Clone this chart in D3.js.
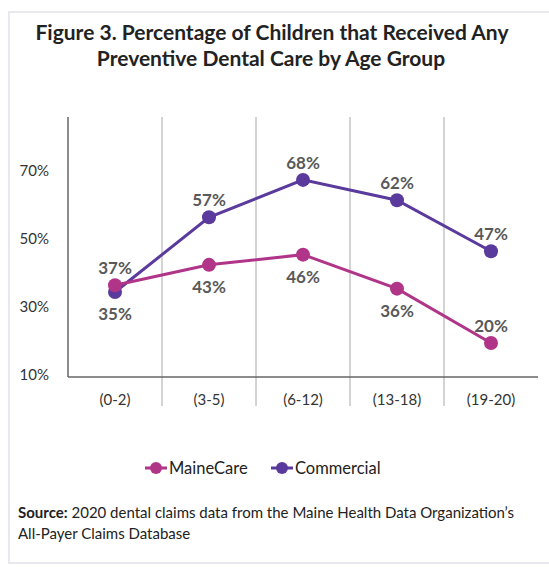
<!DOCTYPE html>
<html>
<head>
<meta charset="utf-8">
<script src="https://cdn.jsdelivr.net/npm/d3@7"></script>
<style>
  body { margin: 0; background: #fff; }
  svg { display: block; font-family: Lato, "Open Sans", sans-serif; }
</style>
</head>
<body>
<svg id="chart" width="549" height="569"></svg>
<script>
'use strict';

/* chart data */
var ageGroups = ['(0-2)', '(3-5)', '(6-12)', '(13-18)', '(19-20)'];
var maineCare = [37, 43, 46, 36, 20];
var commercial = [35, 57, 68, 62, 47];
var yTicks = [10, 30, 50, 70];
// where each label sits relative to its point
var maineCarePos = ['above', 'below', 'below', 'below', 'above'];
var commercialPos = ['below', 'above', 'above', 'above', 'above'];

var svg = d3.select('#chart');

// light frame
svg.append('rect')
    .attr('x', 9).attr('y', 12)
    .attr('width', 560).attr('height', 551)
    .attr('fill', 'none')
    .attr('stroke', '#e8e8ee')
    .attr('stroke-width', 2);

// title
var title = svg.append('text')
    .attr('text-anchor', 'middle')
    .attr('font-weight', 'bold')
    .attr('font-size', 21)
    .attr('fill', '#222');
title.append('tspan').attr('x', 272).attr('y', 40)
    .text('Figure 3. Percentage of Children that Received Any');
title.append('tspan').attr('x', 271).attr('y', 66)
    .text('Preventive Dental Care by Age Group');

var plotLeft = 68, plotRight = 538, plotTop = 117, plotBottom = 377;

var x = d3.scaleBand().domain(ageGroups).range([plotLeft, plotRight]);
var y = d3.scaleLinear().domain([10, 86.5]).range([plotBottom, plotTop]);

// vertical separators between age groups
svg.selectAll('.sep')
    .data(ageGroups.slice(1))
    .enter().append('line')
    .attr('class', 'sep')
    .attr('x1', function(d) { return x(d); })
    .attr('x2', function(d) { return x(d); })
    .attr('y1', plotTop).attr('y2', 406)
    .attr('stroke', '#a8a8a8')
    .attr('stroke-width', 1);

// axis lines
svg.append('line')
    .attr('x1', plotLeft).attr('x2', plotLeft)
    .attr('y1', plotTop).attr('y2', plotBottom)
    .attr('stroke', '#666').attr('stroke-width', 1.5);
svg.append('line')
    .attr('x1', plotLeft).attr('x2', plotRight)
    .attr('y1', plotBottom).attr('y2', plotBottom)
    .attr('stroke', '#666').attr('stroke-width', 1.5);

// y tick labels
svg.selectAll('.ytick')
    .data(yTicks)
    .enter().append('text')
    .attr('class', 'ytick')
    .attr('x', 49)
    .attr('y', function(d) { return y(d) - 2; })
    .attr('dy', '0.35em')
    .attr('text-anchor', 'end')
    .attr('font-size', 15)
    .attr('fill', '#333')
    .text(function(d) { return d + '%'; });

// x labels
svg.selectAll('.xtick')
    .data(ageGroups)
    .enter().append('text')
    .attr('class', 'xtick')
    .attr('x', function(d) { return x(d) + x.bandwidth() / 2; })
    .attr('y', 405)
    .attr('text-anchor', 'middle')
    .attr('font-size', 15)
    .attr('fill', '#333')
    .text(function(d) { return d; });

var cx = function(d, i) { return x(ageGroups[i]) + x.bandwidth() / 2; };

var series = [
    { name: 'Commercial', values: commercial, pos: commercialPos, color: '#5a3a9c' },
    { name: 'MaineCare', values: maineCare, pos: maineCarePos, color: '#b03589' }
];

var line = d3.line()
    .x(cx)
    .y(function(d) { return y(d); });

series.forEach(function(s) {
    svg.append('path')
        .datum(s.values)
        .attr('d', line)
        .attr('fill', 'none')
        .attr('stroke', s.color)
        .attr('stroke-width', 3);

    svg.selectAll(null)
        .data(s.values)
        .enter().append('circle')
        .attr('cx', cx)
        .attr('cy', function(d) { return y(d); })
        .attr('r', 7)
        .attr('fill', s.color);
});

// value labels
series.forEach(function(s) {
    svg.selectAll(null)
        .data(s.values)
        .enter().append('text')
        .attr('x', cx)
        .attr('y', function(d, i) {
            return s.pos[i] === 'above' ? y(d) - 11 : y(d) + 28;
        })
        .attr('text-anchor', 'middle')
        .attr('font-size', 17)
        .attr('font-weight', 'bold')
        .attr('fill', '#595959')
        .text(function(d) { return d + '%'; });
});

// legend
var legendItems = [
    { name: 'MaineCare', color: '#b03589', x: 145 },
    { name: 'Commercial', color: '#5a3a9c', x: 271 }
];
var lg = svg.selectAll('.legend')
    .data(legendItems)
    .enter().append('g')
    .attr('class', 'legend')
    .attr('transform', function(d) { return 'translate(' + d.x + ',468)'; });
lg.append('line')
    .attr('x1', 0).attr('x2', 22)
    .attr('stroke', function(d) { return d.color; })
    .attr('stroke-width', 3);
lg.append('circle')
    .attr('cx', 11).attr('r', 6)
    .attr('fill', function(d) { return d.color; });
lg.append('text')
    .attr('x', 24).attr('dy', '0.35em')
    .attr('font-size', 16.5)
    .attr('fill', '#222')
    .text(function(d) { return d.name; });

// source note
var src = svg.append('text')
    .attr('font-size', 15)
    .attr('fill', '#222');
var l1 = src.append('tspan').attr('x', 18).attr('y', 518);
l1.append('tspan').attr('font-weight', 'bold').text('Source:');
l1.append('tspan').text(' 2020 dental claims data from the Maine Health Data Organization\u2019s');
src.append('tspan').attr('x', 18).attr('y', 539)
    .text('All-Payer Claims Database');
</script>
</body>
</html>
